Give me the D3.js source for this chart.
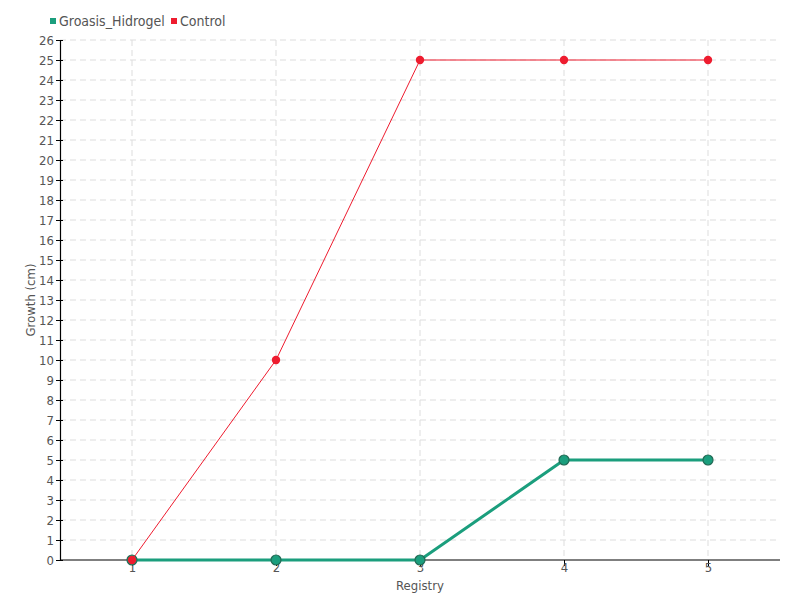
<!DOCTYPE html>
<html><head><meta charset="utf-8">
<script src="https://cdn.jsdelivr.net/npm/d3@7"></script>
<style>
body{margin:0;background:#fff;}
text{font-family:"DejaVu Sans",sans-serif;font-stretch:condensed;}
</style></head>
<body><svg id="c" width="800" height="600"></svg>
<script>
const categories = [1,2,3,4,5];
const seriesNames = ["Groasis_Hidrogel","Control"];
const groasis = [0,0,0,5,5];
const control = [0,10,25,25,25];
const yTicks = d3.range(0,27);
const colors = ["#1b9e7d","#ee1c2f"];

const svg = d3.select("#c");
const m = {l:60,r:20,t:40,b:40};
const W=800,H=600;
const x = d3.scalePoint().domain(categories).range([m.l,W-m.r]).padding(0.5);
const y = d3.scaleLinear().domain([0,26]).range([H-m.b,m.t]);

// grid
svg.append("g").selectAll("line").data(yTicks.slice(1)).join("line")
  .attr("x1",m.l).attr("x2",W-m.r).attr("y1",d=>y(d)).attr("y2",d=>y(d))
  .attr("stroke","#ddd").attr("stroke-dasharray","6,4");
svg.append("g").selectAll("line").data(categories).join("line")
  .attr("x1",d=>x(d)).attr("x2",d=>x(d)).attr("y1",m.t).attr("y2",H-m.b)
  .attr("stroke","#ddd").attr("stroke-dasharray","6,4");

// axes
const xa = svg.append("g").attr("transform",`translate(0,${H-m.b})`)
  .call(d3.axisBottom(x).tickSize(6).tickSizeOuter(0));
xa.select(".domain").attr("d",`M${m.l},0H${W-m.r}`);
const ya = svg.append("g").attr("transform",`translate(${m.l},0)`)
  .call(d3.axisLeft(y).tickValues(yTicks).tickSize(5).tickSizeOuter(0));
ya.selectAll(".tick line").attr("x2",3).attr("x1",-4);
[xa,ya].forEach(a=>{
  a.selectAll("text").attr("fill","#555").style("font-size","13px");
  a.select(".domain").attr("stroke","#000").attr("stroke-width",1.2);
  a.selectAll(".tick line").attr("stroke","#000");
});
xa.selectAll("text").attr("dy","0.6em").attr("y",4);
ya.selectAll("text").attr("x",-6);

svg.append("text").attr("x",x(3)).attr("y",590).attr("text-anchor","middle")
  .attr("fill","#555").style("font-size","13px").text("Registry");
svg.append("text").attr("transform",`translate(35,${(m.t+H-m.b)/2}) rotate(-90)`)
  .attr("text-anchor","middle").attr("fill","#555").style("font-size","13px").text("Growth (cm)");

// lines
const line = d3.line().x((d,i)=>x(categories[i])).y(d=>y(d));
svg.append("path").datum(groasis).attr("d",line).attr("fill","none")
  .attr("stroke",colors[0]).attr("stroke-width",3);
svg.append("g").selectAll("circle").data(groasis).join("circle")
  .attr("cx",(d,i)=>x(categories[i])).attr("cy",d=>y(d)).attr("r",5)
  .attr("fill",colors[0]).attr("stroke","#226a55").attr("stroke-width",1.2);
svg.append("path").datum(control).attr("d",line).attr("fill","none")
  .attr("stroke",colors[1]).attr("stroke-width",1);
svg.append("g").selectAll("circle").data(control).join("circle")
  .attr("cx",(d,i)=>x(categories[i])).attr("cy",d=>y(d)).attr("r",4.2)
  .attr("fill",colors[1]);

// legend
const lg = svg.append("g");
const lx=[50,171];
seriesNames.forEach((n,i)=>{
  lg.append("rect").attr("x",lx[i]).attr("y",18).attr("width",6).attr("height",6).attr("fill",colors[i]);
  lg.append("text").attr("x",lx[i]+9).attr("y",26).attr("fill","#555").style("font-size","14px").text(n);
});
</script></body></html>
